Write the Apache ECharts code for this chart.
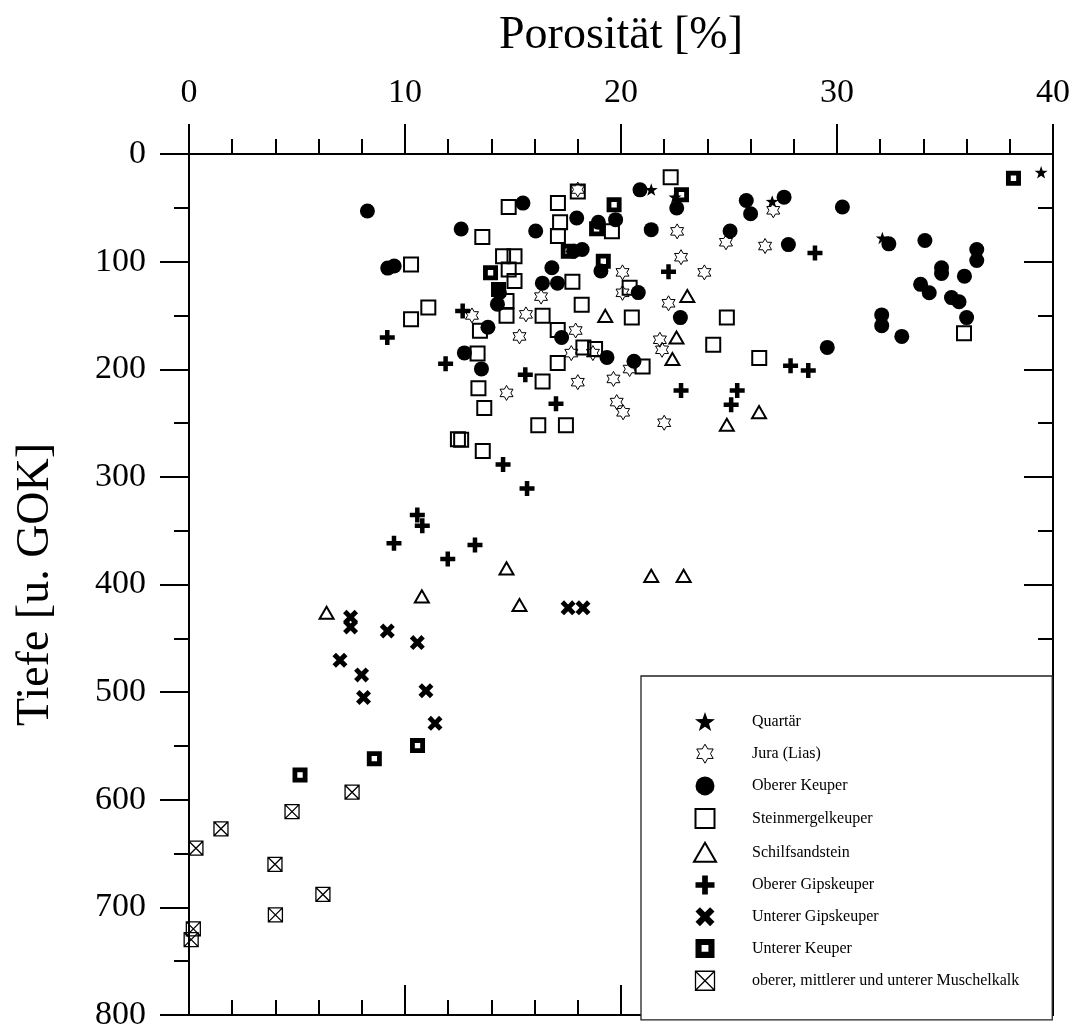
<!DOCTYPE html>
<html>
<head>
<meta charset="utf-8">
<script src="https://cdn.jsdelivr.net/npm/echarts@6/dist/echarts.min.js"></script>
<style>
  html, body { margin: 0; padding: 0; background: #fff; }
  #chart { width: 1073px; height: 1032px; }
</style>
</head>
<body>
<div id="chart"></div>
<script>
// Porosität [%] vs. Tiefe [u. GOK], one array per stratigraphic unit: [porosity, depth]
const quartaer = [[39.45, 17], [21.4, 33], [27.0, 44], [32.1, 78], [22.5, 40]];
const jura = [[18.0, 33], [20.07, 110], [20.07, 129], [16.3, 132.5], [13.1, 150], [15.6, 149],
  [17.9, 164], [15.3, 169.5], [17.7, 185], [18.7, 185], [19.65, 209], [18.0, 212], [14.7, 222],
  [19.8, 230.5], [20.1, 240], [27.05, 52.3], [22.6, 71.9], [24.86, 82], [26.67, 85.5], [22.78, 95.9],
  [23.86, 110], [22.2, 138.7], [21.8, 172.6], [21.9, 181.9], [20.4, 199.8], [22.0, 249.7]];
const obererKeuper = [[8.26, 53], [12.6, 69.7], [15.46, 45.6], [17.95, 59.5], [16.05, 71.5],
  [18.95, 63.4], [19.75, 61], [18.2, 88.8], [17.8, 90.3], [9.5, 104], [9.2, 106], [16.8, 105.7],
  [19.07, 108.7], [16.36, 120], [17.06, 120], [14.37, 128.9], [14.28, 139.5], [13.84, 161],
  [17.25, 170.5], [19.35, 189], [12.75, 184.8], [13.54, 199.7], [20.88, 33.3], [22.58, 50.2],
  [21.4, 70.3], [25.8, 43.2], [26.0, 55.5], [27.55, 40.1], [25.05, 71.5], [30.25, 49.3],
  [27.75, 84.2], [32.4, 83.5], [34.07, 80.4], [36.47, 88.8], [36.47, 99], [34.84, 105.7],
  [34.84, 111], [35.9, 113.5], [33.87, 121.1], [34.27, 128.9], [35.3, 133.4], [35.65, 137.3],
  [36.0, 152], [32.07, 149.5], [32.07, 159.5], [33.0, 169.5], [29.55, 179.7], [22.75, 152],
  [20.8, 128.8], [20.6, 192.6]];
const steinmergelkeuper = [[14.8, 49.3], [17.08, 45.6], [18.0, 34.9], [13.58, 77.2], [17.18, 63.4],
  [17.08, 76.3], [19.58, 71.8], [10.28, 102.6], [14.54, 95], [15.07, 95], [14.8, 107.3], [15.07, 118],
  [17.75, 118.6], [11.08, 142.7], [10.28, 153.5], [14.7, 136.6], [14.7, 150.3], [16.37, 150.3],
  [18.18, 140.1], [17.07, 163.6], [13.47, 164.2], [13.36, 185.3], [18.26, 179.7], [18.8, 181.2],
  [17.07, 194.2], [13.4, 217.6], [13.67, 236.1], [16.37, 211.3], [16.17, 252.1], [17.45, 252.1],
  [12.45, 265], [12.6, 265.5], [13.6, 276], [22.3, 21.6], [20.4, 124.3], [20.5, 152], [24.9, 152],
  [24.27, 177.3], [26.4, 189.5], [21.0, 197.5], [35.88, 166.5]];
const schilfsandstein = [[23.07, 132], [19.27, 150.4], [22.57, 170.5], [22.38, 190.5], [26.39, 239.8],
  [24.9, 251.5], [10.78, 411], [6.37, 426.3], [14.7, 385], [15.3, 419], [21.4, 392], [22.9, 392]];
const obererGipskeuper = [[12.67, 145.8], [9.18, 170.5], [11.88, 195], [15.57, 205], [16.99, 232.1],
  [22.2, 109.5], [28.98, 91.9], [27.85, 196.7], [28.67, 201.2], [22.78, 219.8], [25.38, 219.8],
  [25.1, 232.9], [10.57, 335.4], [10.8, 345.5], [9.49, 361.6], [11.98, 376.4], [13.24, 363.2],
  [14.54, 288.5], [15.65, 310.8]];
const untererGipskeuper = [[7.48, 430.4], [7.48, 439.5], [9.18, 443.2], [10.57, 454], [6.99, 470.4],
  [7.99, 484], [8.08, 505], [10.97, 498.8], [11.39, 529], [17.55, 421.7], [18.24, 421.7]];
const untererKeuper = [[38.17, 22.5], [22.8, 37.9], [19.68, 47.2], [17.56, 90.3], [18.87, 69.4],
  [19.18, 99.6], [13.96, 110.3], [14.33, 125.8], [10.58, 549.7], [8.58, 561.8], [5.14, 577]];
const muschelkalk = [[7.55, 593], [4.77, 611], [1.48, 627], [0.32, 645], [3.98, 660], [6.2, 688],
  [4.0, 707], [0.2, 720], [0.1, 730]];

const xTicks = { min: 0, max: 40, step: 10 };
const yTicks = { min: 0, max: 800, step: 100 };

// marker outlines
const SYM = {
  star5: 'path://M0,-10 L2.35,-3.24 L9.51,-3.09 L3.8,1.24 L5.88,8.09 L0,4 L-5.88,8.09 L-3.8,1.24 L-9.51,-3.09 L-2.35,-3.24 Z',
  hexagram: 'path://M0,-10 L2.887,-5 L8.66,-5 L5.774,0 L8.66,5 L2.887,5 L0,10 L-2.887,5 L-8.66,5 L-5.774,0 L-8.66,-5 L-2.887,-5 Z',
  square: 'path://M-10,-10 L10,-10 L10,10 L-10,10 Z',
  triangle: 'path://M0,-10 L11,9 L-11,9 Z',
  plus: 'path://M-3,-10 L3,-10 L3,-3 L10,-3 L10,3 L3,3 L3,10 L-3,10 L-3,3 L-10,3 L-10,-3 L-3,-3 Z',
  cross: 'path://M4.95,-9.19 L9.19,-4.95 L4.24,0 L9.19,4.95 L4.95,9.19 L0,4.24 L-4.95,9.19 L-9.19,4.95 L-4.24,0 L-9.19,-4.95 L-4.95,-9.19 L0,-4.24 Z',
  holeSquare: 'path://M-10,-10 L10,-10 L10,10 L-10,10 Z M-3.6,-3.6 L-3.6,3.6 L3.6,3.6 L3.6,-3.6 Z',
  boxCross: 'path://M-10,-10 L10,-10 L10,10 L-10,10 Z M-10,-10 L10,10 M10,-10 L-10,10'
};
const NONE = 'rgba(0,0,0,0)';

// legend order (top to bottom)
const units = [
  { name: 'Quartär', data: quartaer, symbol: SYM.star5, size: 13, fill: '#000', bw: 0 },
  { name: 'Jura (Lias)', data: jura, symbol: SYM.hexagram, size: 15, fill: NONE, bw: 1 },
  { name: 'Oberer Keuper', data: obererKeuper, symbol: 'circle', size: 15, fill: '#000', bw: 0 },
  { name: 'Steinmergelkeuper', data: steinmergelkeuper, symbol: SYM.square, size: 14, fill: NONE, bw: 2 },
  { name: 'Schilfsandstein', data: schilfsandstein, symbol: SYM.triangle, size: 14, fill: NONE, bw: 2 },
  { name: 'Oberer Gipskeuper', data: obererGipskeuper, symbol: SYM.plus, size: 15, fill: '#000', bw: 0 },
  { name: 'Unterer Gipskeuper', data: untererGipskeuper, symbol: SYM.cross, size: 15, fill: '#000', bw: 0 },
  { name: 'Unterer Keuper', data: untererKeuper, symbol: SYM.holeSquare, size: 15, fill: '#000', bw: 0 },
  { name: 'oberer, mittlerer und unterer Muschelkalk', data: muschelkalk, symbol: SYM.boxCross, size: 14, fill: NONE, bw: 1.3 }
];

const FONT = 'Liberation Serif';

// later series are painted on top, so the first legend entry is drawn last
const series = units.slice().reverse().map(u => ({
  name: u.name,
  type: 'scatter',
  data: u.data,
  symbol: u.symbol,
  symbolSize: u.size,
  symbolKeepAspect: true,
  xAxisIndex: 0,
  yAxisIndex: 0,
  itemStyle: { color: u.fill, borderColor: '#000', borderWidth: u.bw, opacity: 1 },
  emphasis: { disabled: true },
  silent: true
}));

function valueAxis(extra, ticks, minorSplit) {
  return Object.assign({
    type: 'value',
    min: ticks.min,
    max: ticks.max,
    interval: ticks.step,
    axisLine: { show: true, onZero: false, lineStyle: { color: '#000', width: 2 } },
    axisTick: { show: true, length: 30, lineStyle: { color: '#000', width: 2 } },
    minorTick: { show: true, splitNumber: minorSplit, length: 15, lineStyle: { color: '#000', width: 2 } },
    splitLine: { show: false },
    minorSplitLine: { show: false },
    axisLabel: { show: true, color: '#000', fontFamily: FONT, fontSize: 34 }
  }, extra);
}

const option = {
  animation: false,
  backgroundColor: '#fff',
  grid: { left: 189, right: 20, top: 154, bottom: 13, containLabel: false },
  xAxis: [
    valueAxis({
      position: 'top',
      name: 'Porosität [%]',
      nameLocation: 'middle',
      nameGap: 95,
      nameTextStyle: { color: '#000', fontFamily: FONT, fontSize: 46 },
      axisLabel: { show: true, color: '#000', fontFamily: FONT, fontSize: 34, margin: 44 }
    }, xTicks, 5),
    valueAxis({
      position: 'bottom',
      axisTick: { show: true, inside: true, length: 30, lineStyle: { color: '#000', width: 2 } },
      axisLabel: { show: false }
    }, xTicks, 5)
  ],
  yAxis: [
    valueAxis({
      position: 'left',
      inverse: true,
      name: 'Tiefe [u. GOK]',
      nameLocation: 'middle',
      nameGap: 130,
      nameTextStyle: { color: '#000', fontFamily: FONT, fontSize: 46 },
      axisTick: { show: true, length: 29, lineStyle: { color: '#000', width: 2 } },
      axisLabel: { show: true, color: '#000', fontFamily: FONT, fontSize: 34, margin: 43 }
    }, yTicks, 2),
    valueAxis({
      position: 'right',
      inverse: true,
      axisTick: { show: true, inside: true, length: 29, lineStyle: { color: '#000', width: 2 } },
      axisLabel: { show: false }
    }, yTicks, 2)
  ],
  legend: {
    orient: 'vertical',
    left: 641,
    top: 676,
    padding: [36, 33, 29, 52],
    itemWidth: 84,
    itemHeight: 19,
    itemGap: 12.7,
    symbolKeepAspect: true,
    selectedMode: false,
    backgroundColor: '#fff',
    borderColor: '#222',
    borderWidth: 1.3,
    textStyle: { color: '#000', fontFamily: FONT, fontSize: 16 },
    data: units.map(u => ({
      name: u.name,
      itemStyle: { color: u.fill, borderColor: '#000', borderWidth: u.bw }
    }))
  },
  series: series
};

const chart = echarts.init(document.getElementById('chart'), null, { renderer: 'canvas' });
chart.setOption(option);
</script>
</body>
</html>
